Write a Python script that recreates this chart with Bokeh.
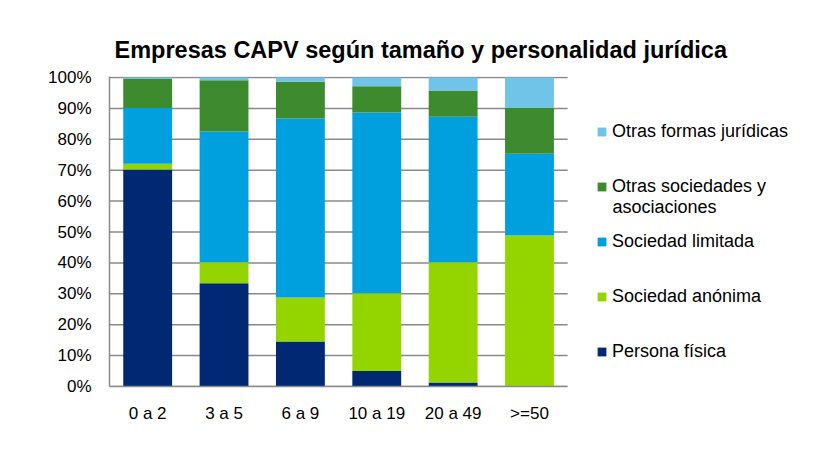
from bokeh.plotting import figure
from bokeh.models import Range1d, FixedTicker, Legend, LegendItem, Label, ColumnDataSource
from bokeh.embed import file_html
from bokeh.resources import INLINE

categories = ["0 a 2", "3 a 5", "6 a 9", "10 a 19", "20 a 49", ">=50"]
persona_fisica = [70.2, 33.4, 14.6, 5.0, 1.3, 0.0]
sociedad_anonima = [1.9, 6.8, 14.2, 25.2, 38.9, 48.9]
sociedad_limitada = [18.0, 42.3, 57.9, 58.5, 47.1, 26.4]
otras_sociedades = [9.4, 16.6, 11.9, 8.5, 8.5, 14.8]
otras_formas = [0.5, 0.9, 1.4, 2.8, 4.2, 9.9]

series_names = ["Persona física", "Sociedad anónima", "Sociedad limitada",
                "Otras sociedades y asociaciones", "Otras formas jurídicas"]
series_colors = ["#002873", "#94D500", "#00A0DF", "#3D8A2F", "#6FC4E7"]

y_ticks = [0, 10, 20, 30, 40, 50, 60, 70, 80, 90, 100]
y_labels = ["0%", "10%", "20%", "30%", "40%", "50%", "60%", "70%", "80%", "90%", "100%"]

title_text = "Empresas CAPV según tamaño y personalidad jurídica"

FONT = "Liberation Sans"
GRID = "#8a8a8a"
TXT = "17px"
LEG = "18px"

n = len(categories)
x_pos = list(range(n))
keys = ["pf", "sa", "sl", "os", "of"]
source = ColumnDataSource(data=dict(
    x=x_pos, pf=persona_fisica, sa=sociedad_anonima,
    sl=sociedad_limitada, os=otras_sociedades, of=otras_formas))

# frame also hosts the legend area on the right
p = figure(x_range=Range1d(-0.5, 8.68), y_range=Range1d(0, 100.33),
           width=812, height=443, output_backend="svg", toolbar_location=None,
           min_border_left=109, min_border_right=2, min_border_bottom=57,
           min_border_top=76, title=title_text)

# horizontal gridlines limited to the bar area
grid_src = ColumnDataSource(data=dict(y=y_ticks, x0=[-0.5] * len(y_ticks),
                                      x1=[n - 0.5] * len(y_ticks)))
p.segment(x0="x0", x1="x1", y0="y", y1="y", source=grid_src,
          line_color=GRID, line_width=1.5)

renderers = p.vbar_stack(keys, x="x", width=0.64, color=series_colors,
                         line_color=None, source=source)

p.title.text_font = FONT
p.title.text_font_size = "23.5px"
p.title.text_font_style = "bold"
p.title.text_color = "#000000"
p.title.align = "left"
p.title.offset = 5
p.title.standoff = 28

p.outline_line_color = None
p.background_fill_color = "white"
p.border_fill_color = "white"
p.xgrid.visible = False
p.ygrid.visible = False

p.yaxis.ticker = FixedTicker(ticks=y_ticks)
p.yaxis.major_label_overrides = {float(t): l for t, l in zip(y_ticks, y_labels)}
p.xaxis.ticker = FixedTicker(ticks=x_pos)
p.xaxis.major_label_overrides = {float(i): c for i, c in zip(x_pos, categories)}
p.xaxis.bounds = (-0.5, n - 0.5)

for ax in (p.xaxis[0], p.yaxis[0]):
    ax.axis_line_color = GRID
    ax.axis_line_width = 1.5
    ax.major_tick_line_color = None
    ax.minor_tick_line_color = None
    ax.major_tick_out = 0
    ax.major_tick_in = 0
    ax.minor_tick_out = 0
    ax.major_label_text_font = FONT
    ax.major_label_text_font_size = TXT
    ax.major_label_text_color = "#000000"
p.yaxis.major_label_standoff = 18
p.xaxis.major_label_standoff = 17

legend_order = [4, 3, 2, 1, 0]
legend_labels = {4: "Otras formas jurídicas", 3: "Otras sociedades y",
                 2: "Sociedad limitada", 1: "Sociedad anónima", 0: "Persona física"}
legend = Legend(items=[LegendItem(label=legend_labels[i], renderers=[renderers[i]]) for i in legend_order],
                location=(487, 24), glyph_width=11, glyph_height=11, label_height=22,
                spacing=33, padding=0, margin=0, label_standoff=5,
                border_line_color=None, background_fill_alpha=0,
                label_text_font=FONT, label_text_font_size=LEG,
                label_text_color="#000000")
p.add_layout(legend)

p.add_layout(Label(x=503, y=180, x_units="screen", y_units="screen", text="asociaciones",
                   text_baseline="middle", text_font=FONT, text_font_size=LEG,
                   text_color="#000000"))

open("out.html", "w").write(file_html(p, INLINE))
